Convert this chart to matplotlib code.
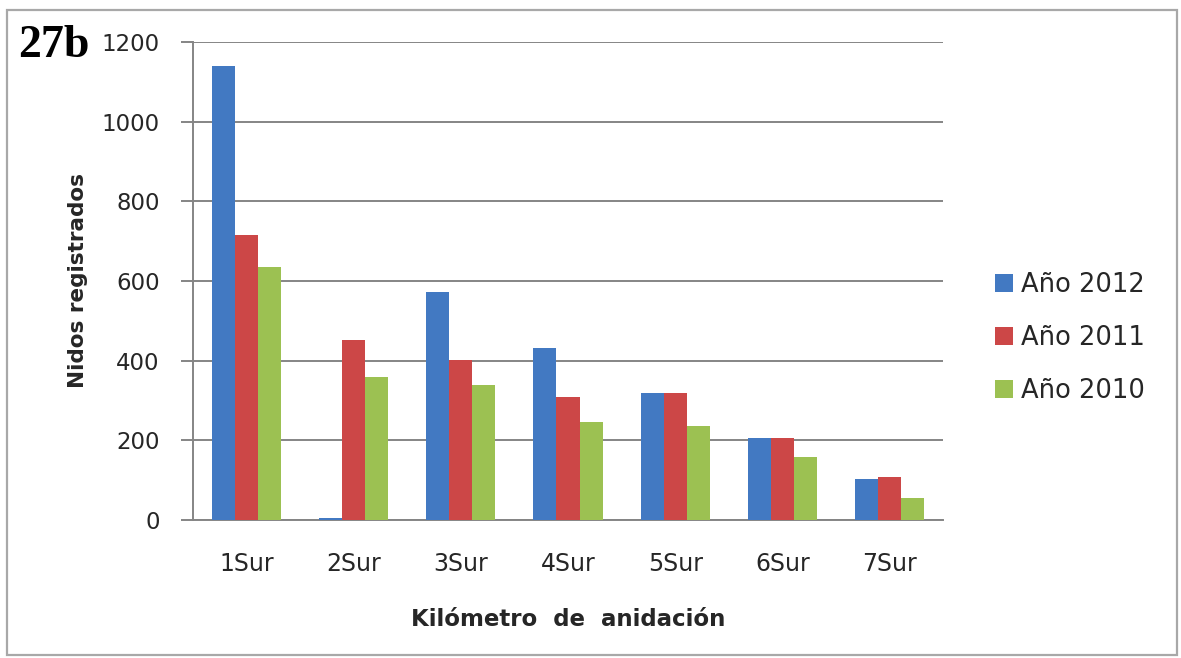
import matplotlib
matplotlib.use("Agg")
import matplotlib.pyplot as plt
import numpy as np
from matplotlib.patches import Rectangle

# ---------------------------------------------------------------------------
# Data
# ---------------------------------------------------------------------------
CATEGORIES = ["1Sur", "2Sur", "3Sur", "4Sur", "5Sur", "6Sur", "7Sur"]
NIDOS_2012 = [1140, 5, 573, 433, 319, 205, 104]
NIDOS_2011 = [715, 453, 401, 308, 319, 205, 109]
NIDOS_2010 = [636, 358, 339, 247, 235, 159, 54]
SERIES_LABELS = ["Año 2012", "Año 2011", "Año 2010"]
Y_TICKS = [0, 200, 400, 600, 800, 1000, 1200]

COLORS = ["#4279c2", "#cc4747", "#9cc152"]
GRID_COLOR = "#858585"
TEXT_COLOR = "#262626"

plt.rcParams["font.family"] = ["DejaVu Sans"]

fig = plt.figure(figsize=(11.81, 6.58), dpi=100)
ax = fig.add_axes([193 / 1181, 1 - 520 / 658, (943 - 193) / 1181, (520 - 42) / 658])

x = np.arange(len(CATEGORIES))
width = 0.215
for i, (vals, lab, col) in enumerate(zip([NIDOS_2012, NIDOS_2011, NIDOS_2010],
                                         SERIES_LABELS, COLORS)):
    ax.bar(x + (i - 1) * width, vals, width, color=col, label=lab, zorder=3)

ax.set_xlim(-0.5, len(CATEGORIES) - 0.5)
ax.set_ylim(0, 1200)
ax.set_yticks(Y_TICKS)
ax.set_xticks(x)
ax.set_xticklabels(CATEGORIES)

# gridlines only, Excel-style
ax.yaxis.grid(True, color=GRID_COLOR, linewidth=1.4, zorder=0)
ax.set_axisbelow(True)
for side in ["top", "right"]:
    ax.spines[side].set_visible(False)
ax.spines["left"].set_color(GRID_COLOR)
ax.spines["left"].set_linewidth(1.4)
ax.spines["bottom"].set_color(GRID_COLOR)
ax.spines["bottom"].set_linewidth(1.4)

ax.tick_params(axis="y", length=9, width=1.4, color=GRID_COLOR, pad=15,
               labelsize=16.5, labelcolor=TEXT_COLOR)
ax.tick_params(axis="x", length=0, pad=23, labelsize=17, labelcolor=TEXT_COLOR)

ax.set_ylabel("Nidos registrados", fontsize=15.5, fontweight="bold",
              color=TEXT_COLOR, labelpad=10)
ax.set_xlabel("Kilómetro  de  anidación", fontsize=16.5, fontweight="bold",
              color=TEXT_COLOR, labelpad=23)

fig.legend(loc="center left", bbox_to_anchor=(995 / 1181, 1 - 338 / 658),
           frameon=False, fontsize=18.5, handlelength=0.7, handleheight=0.7,
           handletextpad=0.3, labelspacing=1.05, borderpad=0, borderaxespad=0,
           labelcolor=TEXT_COLOR)

fig.text(18 / 1181, 1 - 46 / 658, "27b", fontsize=33, fontweight="bold",
         family="Liberation Serif", va="center", ha="left", color="black")

# outer frame of the chart area
fig.patches.append(Rectangle((7 / 1181, 3 / 658), 1170 / 1181, 645 / 658,
                             transform=fig.transFigure, fill=False,
                             edgecolor="#a8a8a8", linewidth=1.6))

fig.savefig("out.png", dpi=100)
